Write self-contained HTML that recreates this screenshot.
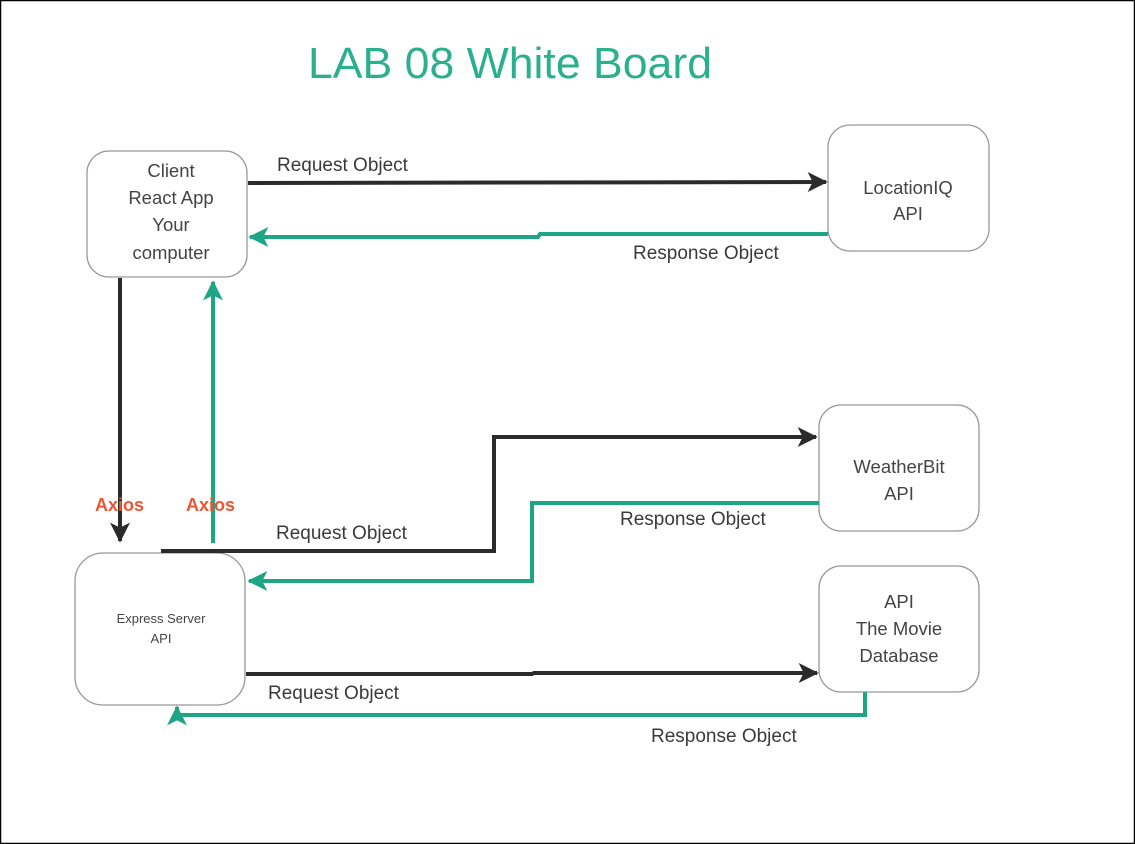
<!DOCTYPE html>
<html><head><meta charset="utf-8"><style>
html,body{margin:0;padding:0;background:#fff;}
svg{display:block;}
text{font-family:"Liberation Sans",sans-serif;}
</style></head><body>
<svg width="1135" height="844" viewBox="0 0 1135 844" xmlns="http://www.w3.org/2000/svg">
<defs>
<marker id="ab" viewBox="0 0 12 12" refX="11" refY="6" markerWidth="20" markerHeight="20" markerUnits="userSpaceOnUse" orient="auto">
<path d="M0,0 L12,6 L0,12 L3,6 Z" fill="#2b2b2b"/></marker>
<marker id="ag" viewBox="0 0 12 12" refX="11" refY="6" markerWidth="20" markerHeight="20" markerUnits="userSpaceOnUse" orient="auto">
<path d="M0,0 L12,6 L0,12 L3,6 Z" fill="#1ea586"/></marker>
</defs>
<rect x="0.5" y="0.5" width="1134" height="843" fill="#fff" stroke="#000" stroke-width="1.5"/>
<text x="308" y="78" font-size="44" fill="#2bb08f" textLength="404" lengthAdjust="spacingAndGlyphs">LAB 08 White Board</text>

<g fill="#fff" stroke="#999" stroke-width="1.3">
<rect x="87" y="151" width="160" height="126" rx="22"/>
<rect x="828" y="125" width="161" height="126" rx="22"/>
<rect x="819" y="405" width="160" height="126" rx="22"/>
<rect x="819" y="566" width="160" height="126" rx="22"/>
<rect x="75" y="553" width="170" height="152" rx="28"/>
</g>

<g font-size="18.5" fill="#444" text-anchor="middle">
<text x="171" y="177">Client</text>
<text x="171" y="204">React App</text>
<text x="171" y="231">Your</text>
<text x="171" y="259">computer</text>
<text x="908" y="194">LocationIQ</text>
<text x="908" y="220">API</text>
<text x="899" y="473">WeatherBit</text>
<text x="899" y="500">API</text>
<text x="899" y="608">API</text>
<text x="899" y="635">The Movie</text>
<text x="899" y="662">Database</text>
<text x="161" y="623" font-size="13">Express Server</text>
<text x="161" y="643" font-size="13">API</text>
</g>

<g fill="none" stroke-width="4">
<path d="M248,183 L826,182" stroke="#2b2b2b" marker-end="url(#ab)"/>
<path d="M828,234 L540,234 L538,237 L250,237" stroke="#1ea586" marker-end="url(#ag)"/>
<path d="M120,278 L120,541" stroke="#2b2b2b" marker-end="url(#ab)"/>
<path d="M213,543 L213,282" stroke="#1ea586" marker-end="url(#ag)"/>
<path d="M161,551 L494,551 L494,437 L816,437" stroke="#2b2b2b" marker-end="url(#ab)"/>
<path d="M819,503 L532,503 L532,581 L249,581" stroke="#1ea586" marker-end="url(#ag)"/>
<path d="M246,674 L532,674 L534,673 L817,673" stroke="#2b2b2b" marker-end="url(#ab)"/>
<path d="M865,692 L865,715 L177,715 L177,707" stroke="#1ea586" marker-end="url(#ag)"/>
</g>

<g font-size="19" fill="#3a3a3a">
<text x="277" y="171">Request Object</text>
<text x="633" y="259">Response Object</text>
<text x="276" y="539">Request Object</text>
<text x="620" y="525">Response Object</text>
<text x="268" y="699">Request Object</text>
<text x="651" y="742">Response Object</text>
</g>
<g font-size="18" font-weight="bold" fill="#ee5533">
<text x="95" y="511">Axios</text>
<text x="186" y="511">Axios</text>
</g>
</svg>
</body></html>
